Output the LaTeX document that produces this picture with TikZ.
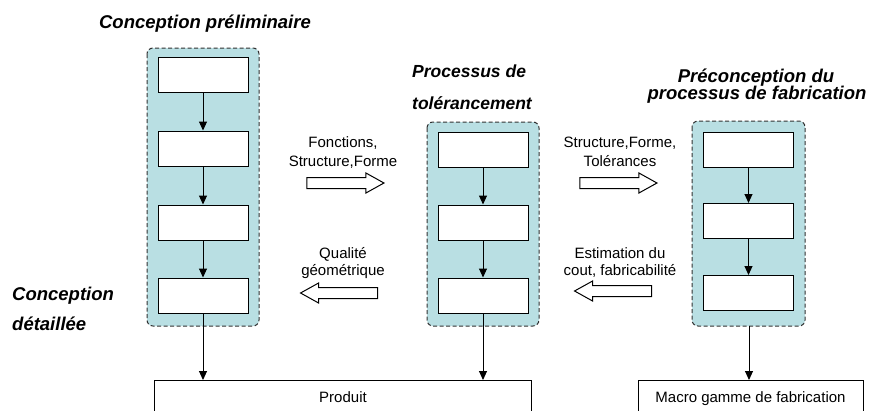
\documentclass[tikz,border=0pt]{standalone}
\usepackage{fontspec}
\setmainfont{Liberation Sans}
\usetikzlibrary{arrows.meta,shapes.arrows}
\definecolor{teal}{RGB}{185,223,227}
\definecolor{dash}{RGB}{50,50,50}
\tikzset{
  grp/.style={draw=dash, dash pattern=on 4pt off 2.5pt, line width=1pt, fill=teal, rounded corners=6pt},
  stepbox/.style={draw=black, line width=1pt, fill=white, minimum width=90pt, minimum height=35pt, inner sep=0pt},
  outbox/.style={draw=black, line width=1pt, fill=white},
  flow/.style={-{Triangle[length=9pt,width=8pt]}, line width=1pt},
  title/.style={font=\fontsize{18.5}{18.5}\selectfont\bfseries\itshape, inner sep=0pt, anchor=base},
  lbl/.style={font=\fontsize{15}{15}\selectfont, inner sep=0pt, anchor=base},
  barrow/.style={single arrow, draw=black, line width=1pt, fill=white, inner xsep=0pt, inner ysep=5pt,
     minimum height=77pt, minimum width=19pt, single arrow head extend=4.5pt, single arrow tip angle=58}
}
\begin{document}
\begin{tikzpicture}[x=1pt,y=-1pt]
\useasboundingbox (0,0) rectangle (872,410);
% groups
\draw[grp] (147,48) rectangle (259,326);
\draw[grp] (427,122) rectangle (539,326);
\draw[grp] (692,121) rectangle (805,326);
\coordinate (g3b) at (749,326);
% left boxes
\node[stepbox] (a1) at (203,74.5) {};
\node[stepbox] (a2) at (203,148.5) {};
\node[stepbox] (a3) at (203,222.5) {};
\node[stepbox] (a4) at (203,295.5) {};
% middle
\node[stepbox] (b1) at (483,149.5) {};
\node[stepbox] (b2) at (483,222.5) {};
\node[stepbox] (b3) at (483,295.5) {};
% right
\node[stepbox] (c1) at (748.5,149.5) {};
\node[stepbox] (c2) at (748.5,221) {};
\node[stepbox] (c3) at (748.5,293) {};
% bottom boxes
\draw[outbox] (154,420) -- (154,380) -- (531,380) -- (531,420);
\coordinate (p1) at (203,380);
\coordinate (p2) at (483,380);
\draw[outbox] (638,420) -- (638,380) -- (863,380) -- (863,420);
\coordinate (m1) at (749,380);
\node[lbl] (prod) at (343,402) {Produit};
\node[lbl] (macro) at (750.5,402) {Macro gamme de fabrication};
% flows
\draw[flow] (a1) -- (a2);
\draw[flow] (a2) -- (a3);
\draw[flow] (a3) -- (a4);
\draw[flow] (b1) -- (b2);
\draw[flow] (b2) -- (b3);
\draw[flow] (c1) -- (c2);
\draw[flow] (c2) -- (c3);
\draw[flow] (a4.south) -- (p1);
\draw[flow] (b3.south) -- (p2);
\draw[flow] (g3b) -- (m1);
% block arrows
\node[barrow] (r1) at (340.5,183) {};
\node[barrow] (r2) at (613.5,183) {};
\node[barrow, shape border rotate=180] (l1) at (344,293) {};
\node[barrow, shape border rotate=180] (l2) at (618,291) {};
% labels
\node[lbl] (t1) at (343,147) {Fonctions,};
\node[lbl] (t2) at (343,166) {Structure,Forme};
\node[lbl] (t3) at (620,147) {Structure,Forme,};
\node[lbl] (t4) at (620,166) {Tolérances};
\node[lbl] (t5) at (343,258) {Qualité};
\node[lbl] (t6) at (343,275) {géométrique};
\node[lbl] (t7) at (620,258) {Estimation du};
\node[lbl] (t8) at (620,275) {cout, fabricabilité};
% titles
\node[title] (h1) at (205,28) {Conception préliminaire};
\node[title, anchor=base west, font=\fontsize{17.5}{17.5}\selectfont\bfseries\itshape] (h2) at (412,77) {Processus de};
\node[title, anchor=base west, font=\fontsize{17.5}{17.5}\selectfont\bfseries\itshape] (h3) at (412,109) {tolérancement};
\node[title] (h4) at (756,82) {Préconception du};
\node[title] (h5) at (757,99) {processus de fabrication};
\node[title, anchor=base west] (h6) at (12,300) {Conception};
\node[title, anchor=base west] (h7) at (12,330) {détaillée};
\end{tikzpicture}
\end{document}
